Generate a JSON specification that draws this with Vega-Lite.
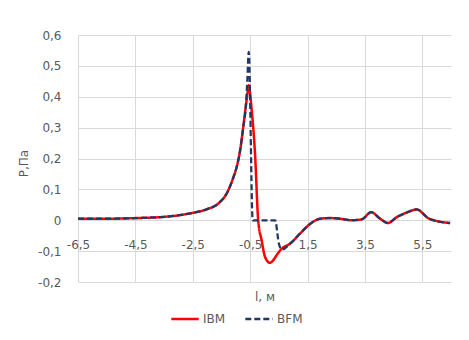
{
  "$schema": "https://vega.github.io/schema/vega-lite/v6.json",
  "autosize": "none",
  "width": 373,
  "height": 247,
  "padding": {"left": 78, "top": 35, "right": 18, "bottom": 58},
  "background": "white",
  "config": {
    "view": {"stroke": null},
    "font": "DejaVu Sans",
    "axis": {"gridColor": "#d9d9d9", "gridWidth": 1, "domain": false, "ticks": false, "labelColor": "#595959", "titleColor": "#595959", "labelFontSize": 12, "titleFontSize": 12, "titleFontWeight": "normal", "labelFont": "DejaVu Sans", "titleFont": "DejaVu Sans"},
    "legend": {"labelColor": "#595959", "labelFontSize": 12, "labelFont": "DejaVu Sans"}
  },
  "data": {
    "values": [
      {"l": -6.5, "P": 0.005, "s": "IBM"},
      {"l": -5.5, "P": 0.005, "s": "IBM"},
      {"l": -4.5, "P": 0.007, "s": "IBM"},
      {"l": -3.5, "P": 0.011, "s": "IBM"},
      {"l": -3.0, "P": 0.016, "s": "IBM"},
      {"l": -2.5, "P": 0.024, "s": "IBM"},
      {"l": -2.0, "P": 0.036, "s": "IBM"},
      {"l": -1.6, "P": 0.055, "s": "IBM"},
      {"l": -1.3, "P": 0.09, "s": "IBM"},
      {"l": -1.1, "P": 0.135, "s": "IBM"},
      {"l": -0.95, "P": 0.18, "s": "IBM"},
      {"l": -0.85, "P": 0.226, "s": "IBM"},
      {"l": -0.75, "P": 0.295, "s": "IBM"},
      {"l": -0.65, "P": 0.37, "s": "IBM"},
      {"l": -0.58, "P": 0.42, "s": "IBM"},
      {"l": -0.55, "P": 0.437, "s": "IBM"},
      {"l": -0.45, "P": 0.36, "s": "IBM"},
      {"l": -0.33, "P": 0.215, "s": "IBM"},
      {"l": -0.22, "P": 0.0, "s": "IBM"},
      {"l": -0.1, "P": -0.065, "s": "IBM"},
      {"l": 0.02, "P": -0.119, "s": "IBM"},
      {"l": 0.19, "P": -0.138, "s": "IBM"},
      {"l": 0.3, "P": -0.13, "s": "IBM"},
      {"l": 0.43, "P": -0.112, "s": "IBM"},
      {"l": 0.6, "P": -0.092, "s": "IBM"},
      {"l": 0.89, "P": -0.076, "s": "IBM"},
      {"l": 1.24, "P": -0.043, "s": "IBM"},
      {"l": 1.59, "P": -0.012, "s": "IBM"},
      {"l": 1.94, "P": 0.005, "s": "IBM"},
      {"l": 2.29, "P": 0.007, "s": "IBM"},
      {"l": 2.64, "P": 0.005, "s": "IBM"},
      {"l": 3.04, "P": 0.0, "s": "IBM"},
      {"l": 3.39, "P": 0.003, "s": "IBM"},
      {"l": 3.72, "P": 0.026, "s": "IBM"},
      {"l": 4.03, "P": 0.005, "s": "IBM"},
      {"l": 4.3, "P": -0.009, "s": "IBM"},
      {"l": 4.61, "P": 0.01, "s": "IBM"},
      {"l": 4.96, "P": 0.025, "s": "IBM"},
      {"l": 5.3, "P": 0.035, "s": "IBM"},
      {"l": 5.72, "P": 0.006, "s": "IBM"},
      {"l": 6.07, "P": -0.004, "s": "IBM"},
      {"l": 6.47, "P": -0.009, "s": "IBM"},
      {"l": -6.5, "P": 0.005, "s": "BFM"},
      {"l": -5.5, "P": 0.005, "s": "BFM"},
      {"l": -4.5, "P": 0.007, "s": "BFM"},
      {"l": -3.5, "P": 0.011, "s": "BFM"},
      {"l": -3.0, "P": 0.016, "s": "BFM"},
      {"l": -2.5, "P": 0.024, "s": "BFM"},
      {"l": -2.0, "P": 0.036, "s": "BFM"},
      {"l": -1.6, "P": 0.055, "s": "BFM"},
      {"l": -1.3, "P": 0.09, "s": "BFM"},
      {"l": -1.1, "P": 0.135, "s": "BFM"},
      {"l": -0.95, "P": 0.18, "s": "BFM"},
      {"l": -0.85, "P": 0.226, "s": "BFM"},
      {"l": -0.75, "P": 0.295, "s": "BFM"},
      {"l": -0.65, "P": 0.37, "s": "BFM"},
      {"l": -0.6, "P": 0.45, "s": "BFM"},
      {"l": -0.55, "P": 0.545, "s": "BFM"},
      {"l": -0.41, "P": 0.0, "s": "BFM"},
      {"l": 0.37, "P": 0.0, "s": "BFM"},
      {"l": 0.5, "P": -0.075, "s": "BFM"},
      {"l": 0.6, "P": -0.095, "s": "BFM"},
      {"l": 0.89, "P": -0.076, "s": "BFM"},
      {"l": 1.24, "P": -0.043, "s": "BFM"},
      {"l": 1.59, "P": -0.012, "s": "BFM"},
      {"l": 1.94, "P": 0.005, "s": "BFM"},
      {"l": 2.29, "P": 0.007, "s": "BFM"},
      {"l": 2.64, "P": 0.005, "s": "BFM"},
      {"l": 3.04, "P": 0.0, "s": "BFM"},
      {"l": 3.39, "P": 0.003, "s": "BFM"},
      {"l": 3.72, "P": 0.026, "s": "BFM"},
      {"l": 4.03, "P": 0.005, "s": "BFM"},
      {"l": 4.3, "P": -0.009, "s": "BFM"},
      {"l": 4.61, "P": 0.01, "s": "BFM"},
      {"l": 4.96, "P": 0.025, "s": "BFM"},
      {"l": 5.3, "P": 0.035, "s": "BFM"},
      {"l": 5.72, "P": 0.006, "s": "BFM"},
      {"l": 6.07, "P": -0.004, "s": "BFM"},
      {"l": 6.47, "P": -0.009, "s": "BFM"}
    ]
  },
  "encoding": {
    "x": {
      "field": "l", "type": "quantitative",
      "scale": {"domain": [-6.5, 6.5], "nice": false, "zero": false},
      "axis": {
        "title": "l, м",
        "values": [-6.5, -4.5, -2.5, -0.5, 1.5, 3.5, 5.5],
        "labelExpr": "(datum.value < 0 ? '-' : '') + replace(format(abs(datum.value), '.1f'), '.', ',')",
        "labelFlush": false,
        "labelOverlap": false,
        "labelBaseline": "middle",
        "labelPadding": -38,
        "titlePadding": 9
      }
    },
    "y": {
      "field": "P", "type": "quantitative",
      "scale": {"domain": [-0.2, 0.6], "nice": false, "zero": false},
      "axis": {
        "title": "P,Па",
        "values": [-0.2, -0.1, 0, 0.1, 0.2, 0.3, 0.4, 0.5, 0.6],
        "labelExpr": "abs(datum.value) < 1e-9 ? '0' : (datum.value < 0 ? '-' : '') + replace(format(abs(datum.value), '.1f'), '.', ',')",
        "labelPadding": 17,
        "titleX": -55,
        "titleY": 128,
        "titleBaseline": "middle",
        "titleAlign": "center"
      }
    },
    "color": {
      "field": "s", "type": "nominal",
      "scale": {"domain": ["IBM", "BFM"], "range": ["#ff0000", "#1f3864"]},
      "legend": {"title": null, "orient": "none", "direction": "horizontal", "legendX": 92, "legendY": 269, "symbolType": "stroke", "symbolSize": 750, "symbolStrokeWidth": 2.5, "labelOffset": 3, "columnPadding": 14}
    },
    "strokeDash": {
      "field": "s", "type": "nominal",
      "scale": {"domain": ["IBM", "BFM"], "range": [[1, 0], [6, 3]]},
      "legend": {"title": null, "orient": "none", "direction": "horizontal", "legendX": 92, "legendY": 269, "symbolType": "stroke", "symbolSize": 750, "symbolStrokeWidth": 2.5, "labelOffset": 3, "columnPadding": 14}
    }
  },
  "layer": [
    {
      "transform": [{"filter": "datum.s == 'IBM'"}],
      "mark": {"type": "line", "interpolate": "monotone", "strokeWidth": 2.5}
    },
    {
      "transform": [{"filter": "datum.s == 'BFM'"}],
      "mark": {"type": "line", "interpolate": "monotone", "strokeWidth": 2.25}
    }
  ]
}
